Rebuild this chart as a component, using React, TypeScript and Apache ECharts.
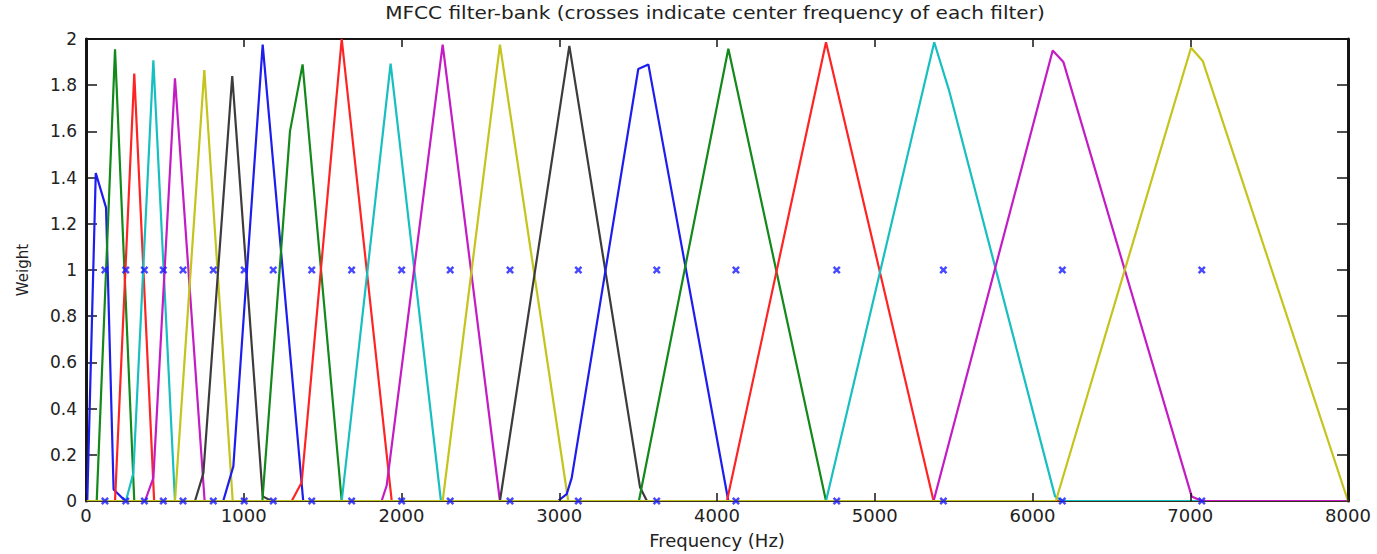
import React, { useEffect, useRef } from "react";
import * as echarts from "echarts";

const FREQ_MIN = 0;
const FREQ_MAX = 8000;
const FREQ_STEP = 1000;
const WEIGHT_MIN = 0;
const WEIGHT_MAX = 2;
const WEIGHT_STEP = 0.2;

const TITLE = "MFCC filter-bank (crosses indicate center frequency of each filter)";
const X_NAME = "Frequency (Hz)";
const Y_NAME = "Weight";

// centre frequency of each filter (Hz), marked with crosses at weight 0 and 1
const centerFreqs = [120, 252, 370, 490, 615, 807, 1003, 1187, 1431, 1684, 2001, 2309, 2688, 3121, 3618, 4120, 4759, 5435, 6189, 7073];
const crossLevels = [0, 1];

// vertices [Hz, weight] of each triangular filter
const filter01 = [[8, 0], [62, 1.42], [127, 1.27], [175, 0.05], [250, 0]];
const filter02 = [[68, 0], [184, 1.955], [306, 0]];
const filter03 = [[184, 0], [306, 1.85], [432, 0]];
const filter04 = [[253, 0], [300, 0.12], [427, 1.908], [564, 0]];
const filter05 = [[374, 0], [427, 0.1], [564, 1.83], [752, 0]];
const filter06 = [[564, 0], [750, 1.866], [930, 0]];
const filter07 = [[691, 0], [744, 0.12], [927, 1.84], [1120, 0.02], [1177, 0]];
const filter08 = [[870, 0], [934, 0.15], [1120, 1.976], [1377, 0]];
const filter09 = [[1118, 0], [1293, 1.6], [1373, 1.89], [1621, 0]];
const filter10 = [[1304, 0], [1367, 0.08], [1621, 2.0], [1938, 0]];
const filter11 = [[1621, 0], [1931, 1.893], [2250, 0]];
const filter12 = [[1874, 0], [1906, 0.067], [2261, 1.976], [2624, 0]];
const filter13 = [[2261, 0], [2624, 1.976], [3057, 0]];
const filter14 = [[2624, 0], [3064, 1.97], [3512, 0.06], [3556, 0]];
const filter15 = [[2992, 0], [3047, 0.03], [3079, 0.1], [3501, 1.87], [3565, 1.89], [4072, 0]];
const filter16 = [[3505, 0], [4072, 1.958], [4691, 0]];
const filter17 = [[4063, 0], [4691, 1.986], [5373, 0]];
const filter18 = [[4691, 0], [5377, 1.986], [5470, 1.78], [6143, 0.02], [6189, 0]];
const filter19 = [[5373, 0], [6128, 1.95], [6196, 1.9], [7009, 0.02], [7073, 0]];
const filter20 = [[6148, 0], [7005, 1.962], [7079, 1.905], [8000, 0]];

const filters = [
  filter01, filter02, filter03, filter04, filter05, filter06, filter07,
  filter08, filter09, filter10, filter11, filter12, filter13, filter14,
  filter15, filter16, filter17, filter18, filter19, filter20,
];

// MATLAB default colour cycle b, g, r, c, m, y, k
const lineColors = ["#1d1df0", "#12891a", "#ff2424", "#18bfc0", "#c41cc4", "#c4c41c", "#3c3c3c"];
const crossColor = "#1a1aff";

const FONT = "DejaVu Sans";
const INK = "#222222";

export default function App() {
  const ref = useRef<HTMLDivElement>(null);

  useEffect(() => {
    if (!ref.current) return;
    const chart = echarts.init(ref.current, null, { renderer: "svg" });

    const lineSeries = filters.map((pts, i) => {
      const c = lineColors[i % lineColors.length];
      const data = [[FREQ_MIN, 0], ...pts];
      if (pts[pts.length - 1][0] < FREQ_MAX) data.push([FREQ_MAX, 0]);
      return {
        type: "line",
        name: "filter " + (i + 1),
        data,
        symbol: "none",
        showSymbol: false,
        lineStyle: { color: c, width: 2.2 },
        itemStyle: { color: c },
        xAxisIndex: 0,
        yAxisIndex: 0,
        z: 2,
      };
    });

    const crossData: number[][] = [];
    centerFreqs.forEach((f) => crossLevels.forEach((l) => crossData.push([f, l])));

    const tickStyle = { color: "#151515", width: 1.5 };

    const option: any = {
      animation: false,
      backgroundColor: "#ffffff",
      grid: { left: 86, right: 29, top: 39, bottom: 48, containLabel: false },
      graphic: [
        {
          type: "text",
          x: 715,
          y: 13,
          scaleX: 1.18,
          style: {
            text: TITLE,
            fill: INK,
            font: "17px 'DejaVu Sans'",
            textAlign: "center",
            textVerticalAlign: "middle",
          },
        },
      ],
      xAxis: [
        {
          type: "value",
          min: FREQ_MIN,
          max: FREQ_MAX,
          interval: FREQ_STEP,
          position: "bottom",
          z: 3,
          name: X_NAME,
          nameLocation: "middle",
          nameGap: 30,
          nameTextStyle: { fontFamily: FONT, fontSize: 18, color: INK },
          axisLine: { show: true, onZero: false, lineStyle: { color: "#3a3020", width: 1.2 } },
          axisTick: { show: true, inside: true, length: 8, lineStyle: tickStyle },
          axisLabel: {
            fontFamily: FONT,
            fontSize: 18,
            color: INK,
            margin: 5,
            formatter: (v: number) => String(v),
          },
          splitLine: { show: false },
        },
        {
          type: "value",
          min: FREQ_MIN,
          max: FREQ_MAX,
          interval: FREQ_STEP,
          position: "top",
          axisLine: { show: true, onZero: false, lineStyle: { color: "#151515", width: 2 } },
          axisTick: { show: true, inside: true, length: 8, lineStyle: tickStyle },
          axisLabel: { show: false },
          splitLine: { show: false },
        },
      ],
      yAxis: [
        {
          type: "value",
          min: WEIGHT_MIN,
          max: WEIGHT_MAX,
          interval: WEIGHT_STEP,
          position: "left",
          name: Y_NAME,
          nameLocation: "middle",
          nameGap: 56,
          nameTextStyle: { fontFamily: FONT, fontSize: 15, color: INK },
          axisLine: { show: true, onZero: false, lineStyle: { color: "#151515", width: 3 } },
          axisTick: { show: true, inside: true, length: 11, lineStyle: tickStyle },
          axisLabel: { fontFamily: FONT, fontSize: 17, color: INK, margin: 9 },
          splitLine: { show: false },
        },
        {
          type: "value",
          min: WEIGHT_MIN,
          max: WEIGHT_MAX,
          interval: WEIGHT_STEP,
          position: "right",
          axisLine: { show: true, onZero: false, lineStyle: { color: "#151515", width: 3 } },
          axisTick: { show: true, inside: true, length: 11, lineStyle: tickStyle },
          axisLabel: { show: false },
          splitLine: { show: false },
        },
      ],
      series: [
        ...lineSeries,
        {
          type: "scatter",
          name: "centre frequencies",
          data: crossData,
          xAxisIndex: 0,
          yAxisIndex: 0,
          symbol: "path://M0,2.2L2.2,0L5,2.8L7.8,0L10,2.2L7.2,5L10,7.8L7.8,10L5,7.2L2.2,10L0,7.8L2.8,5Z",
          symbolSize: 8,
          itemStyle: { color: crossColor },
          z: 5,
        },
      ],
    };

    chart.setOption(option);
    return () => chart.dispose();
  }, []);

  return (
    <div
      ref={ref}
      style={{ position: "fixed", left: 0, top: 0, width: 1377, height: 554, background: "#fff" }}
    />
  );
}
